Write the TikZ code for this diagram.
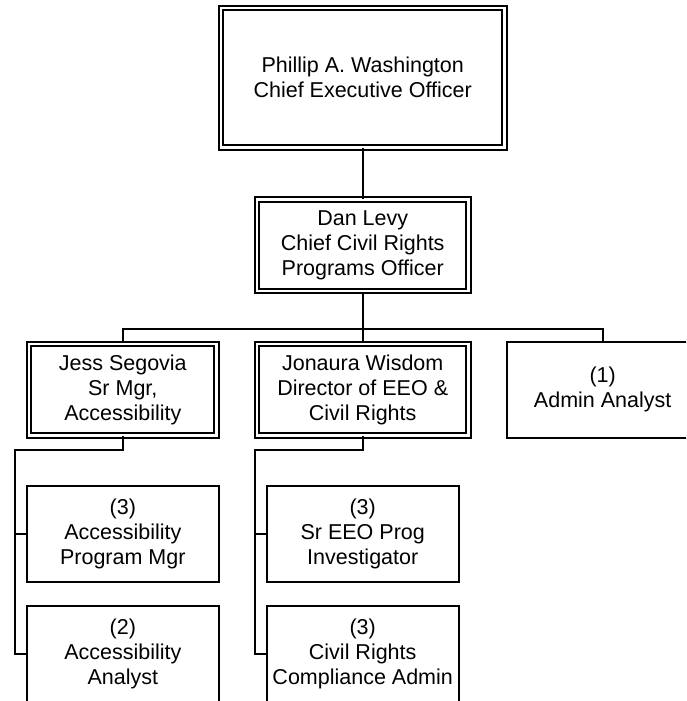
\documentclass[tikz,border=0pt]{standalone}
\usepackage{fontspec}
\setmainfont{Liberation Sans}
\usepackage{tikz}
\usetikzlibrary{positioning,calc}

\begin{document}
\begin{tikzpicture}[x=1pt,y=-1pt]
\tikzstyle{trait}=[line width=1.7pt]
\tikzstyle{poste}=[draw,trait,fill=white,align=center,inner sep=0pt,minimum width=192pt,minimum height=96pt,font=\fontsize{21.5}{25}\selectfont]
\tikzstyle{chef}=[poste,double,double distance=2.8pt,minimum width=187.5pt,minimum height=91.5pt]
\tikzstyle{grandchef}=[chef,minimum width=211.5pt]
\def\NiveauA{77.8}
\def\NiveauB{245.3}
\def\NiveauC{389.7}
\def\NiveauD{534}
\def\NiveauE{653.7}
\def\ColonneA{122.8}
\def\ColonneB{362.7}
\def\ColonneC{602.7}
\useasboundingbox (0,0) rectangle (686,701);
\clip (0,0) rectangle (686,701);
% postes
\node[chef,minimum width=283.5pt,minimum height=139.5pt] (PDG) at (\ColonneB,\NiveauA) {Phillip A. Washington\\Chief Executive Officer};
\node[grandchef] (DirCR) at (\ColonneB,\NiveauB) {Dan Levy\\Chief Civil Rights\\Programs Officer};
\node[chef] (Access) at (\ColonneA,\NiveauC) {Jess Segovia\\Sr Mgr,\\Accessibility};
\node[grandchef] (EEO) at (\ColonneB,\NiveauC) {Jonaura Wisdom\\Director of EEO \&\\Civil Rights};
\node[poste] (Admin) at (\ColonneC,\NiveauC) {(1)\\Admin Analyst};
\node[poste] (AccProg) at (\ColonneA,\NiveauD) {(3)\\Accessibility\\Program Mgr};
\node[poste] (AccAna) at (\ColonneA,\NiveauE) {(2)\\Accessibility\\Analyst};
\node[poste] (EEOInv) at (\ColonneB,\NiveauD) {(3)\\Sr EEO Prog\\Investigator};
\node[poste] (CRComp) at (\ColonneB,\NiveauE) {(3)\\Civil Rights\\Compliance Admin};
% liaisons
\coordinate (bus) at (0,329.3);
\coordinate (RailA) at (15,450);
\coordinate (RailB) at (255,450);
\draw[trait] (PDG)--(DirCR);
\draw[trait] (DirCR.south)--(DirCR.south |- bus);
\draw[trait] (Access.north) |- (bus -| Admin.north)--(Admin.north);
\draw[trait] (EEO.north)--(EEO.north |- bus);
\draw[trait] (Access.south) |- (RailA) |- (AccAna.west);
\draw[trait] (RailA |- AccProg.west)--(AccProg.west);
\draw[trait] (EEO.south) |- (RailB) |- (CRComp.west);
\draw[trait] (RailB |- EEOInv.west)--(EEOInv.west);
\end{tikzpicture}
\end{document}
